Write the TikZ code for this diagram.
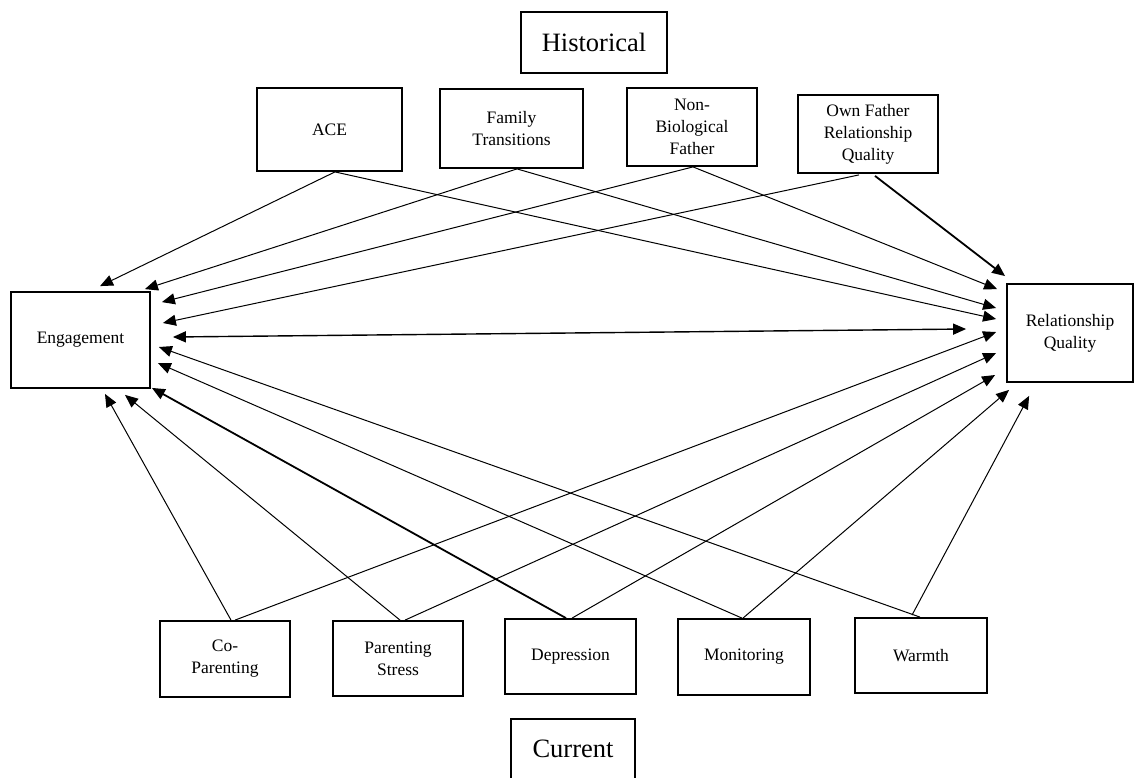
\documentclass[tikz,border=0pt]{standalone}
\usepackage{fontspec}
\setmainfont{Liberation Serif}
\usetikzlibrary{arrows.meta,calc}
\tikzset{
  box/.style={draw, line width=1.8pt, inner sep=0pt, align=center,
    font=\fontsize{17.5}{22}\selectfont},
  titlebox/.style={draw, line width=1.3pt, inner sep=0pt, align=center,
    font=\fontsize{26.5}{30}\selectfont},
  arr/.style={-{Triangle[length=13pt,width=11pt]}, line width=1pt},
  heavyarr/.style={-{Triangle[length=13pt,width=11pt]}, line width=1.8pt},
  biarr/.style={{Triangle[length=13pt,width=11pt]}-{Triangle[length=13pt,width=11pt]}, line width=1.4pt}
}
\begin{document}
\begin{tikzpicture}[x=1pt,y=-1pt]
\useasboundingbox (0,0) rectangle (1137,777);
\clip (0,0) rectangle (1137,777);
% titles
\node[titlebox, minimum width=146pt, minimum height=61pt] (hist) at (594,42.5) {Historical};
\node[titlebox, minimum width=124pt, minimum height=60pt] (cur) at (573,749) {Current};
% top boxes
\node[box, minimum width=145pt, minimum height=83pt] (ace) at (329.5,129.5) {ACE};
\node[box, minimum width=143pt, minimum height=79pt] (ft) at (511.5,128.5) {Family\\Transitions};
\node[box, minimum width=130pt, minimum height=78pt] (nbf) at (692,127) {Non-\\Biological\\Father};
\node[box, minimum width=140pt, minimum height=78pt] (of) at (868,134) {Own Father\\Relationship\\Quality};
% outcome boxes
\node[box, minimum width=139pt, minimum height=96pt] (eng) at (80.5,340) {Engagement};
\node[box, minimum width=126pt, minimum height=98pt] (rq) at (1070,333) {Relationship\\Quality};
% bottom boxes
\node[box, minimum width=130pt, minimum height=76pt] (cop) at (225,659) {Co-\\Parenting};
\node[box, minimum width=130pt, minimum height=75pt] (ps) at (398,658.5) {Parenting\\Stress};
\node[box, minimum width=131pt, minimum height=75pt] (dep) at (570.5,656.5) {Depression};
\node[box, minimum width=132pt, minimum height=76pt] (mon) at (744,657) {Monitoring};
\node[box, minimum width=132pt, minimum height=75pt] (warm) at (921,655.5) {Warmth};
% historical -> engagement
\draw[arr] ($(ace.south)+(5.5,0)$) -- ($(eng.north)+(19.5,-5)$);
\draw[arr] ($(ft.south)+(5.5,0)$) -- ($(eng.north east)+(-6,-2)$);
\draw[arr] ($(nbf.south)+(1,0)$) -- ($(eng.north east)+(11,11)$);
\draw[arr] ($(of.south)+(-9,1)$) -- ($(eng.east)+(12,-17)$);
% historical -> relationship quality
\draw[arr] ($(ace.south)+(5.5,0)$) -- ($(rq.west)+(-10,-14)$);
\draw[arr] ($(ft.south)+(5.5,0)$) -- ($(rq.west)+(-10,-25)$);
\draw[arr] ($(nbf.south)+(1,0)$) -- ($(rq.north west)+(-9,6)$);
\draw[heavyarr] ($(of.south)+(7,2)$) -- ($(rq.north west)+(-1,-7)$);
% engagement <-> relationship quality
\draw[biarr] ($(eng.east)+(22,-3)$) -- ($(rq.west)+(-40,-4)$);
% current -> engagement
\draw[arr] ($(cop.north)+(6,0)$) -- ($(eng.south)+(24.5,5)$);
\draw[arr] ($(ps.north)+(2,0)$) -- ($(eng.south)+(44.5,6)$);
\draw[heavyarr] ($(dep.north)+(-4.5,0)$) -- ($(eng.south east)+(1,-1)$);
\draw[arr] ($(mon.north)+(-2,0)$) -- ($(eng.east)+(7,23)$);
\draw[arr] ($(warm.north)+(-1,0)$) -- ($(eng.east)+(8,7)$);
% current -> relationship quality
\draw[arr] ($(cop.north)+(10,0)$) -- ($(rq.west)+(-10,-1)$);
\draw[arr] ($(ps.north)+(7,0)$) -- ($(rq.west)+(-10,20)$);
\draw[arr] ($(dep.north)+(1.5,0)$) -- ($(rq.west)+(-11,42)$);
\draw[arr] ($(mon.north)+(-1,0)$) -- ($(rq.south west)+(3,7)$);
\draw[arr] ($(warm.north)+(-9,-2)$) -- ($(rq.south west)+(23,13)$);
\end{tikzpicture}
\end{document}
